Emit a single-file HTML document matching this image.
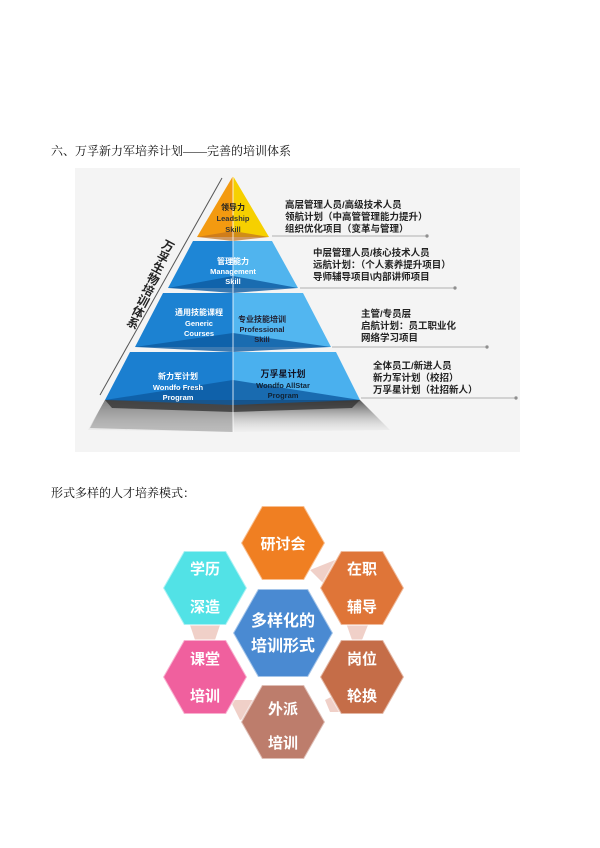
<!DOCTYPE html>
<html><head><meta charset="utf-8"><style>
body{margin:0;width:600px;height:848px;background:#fff;position:relative;overflow:hidden;font-family:"Liberation Sans","Noto Sans CJK SC",sans-serif}
.h{position:absolute;left:51px;font-size:12px;color:#111;font-family:"Liberation Serif","Noto Serif CJK SC",serif}
svg text{font-family:"Liberation Sans","Noto Sans CJK SC",sans-serif}
</style></head><body>
<div class="h" style="top:142px">六、万孚新力军培养计划——完善的培训体系</div>
<div class="h" style="top:484px">形式多样的人才培养模式：</div>
<svg width="600" height="848" style="position:absolute;left:0;top:0">
<defs>
<linearGradient id="sh" x1="0" y1="0" x2="0" y2="1"><stop offset="0" stop-color="#555"/><stop offset="1" stop-color="#ddd" stop-opacity="0.2"/></linearGradient>
</defs>
<rect x="75" y="168" width="445" height="284" fill="#f4f4f4"/>
<polygon points="105,400 360,400 390,430 233,432 88,430" fill="url(#sh)"/>
<polygon points="105,400 233,400 233,432 90,428" fill="#9a9a9a" opacity="0.6"/>
<polygon points="105,400 360,400 352,408 233,412 112,408" fill="#333" opacity="0.8"/>
<polygon points="130,352 233,352 233,400 105,400" fill="#1b7fd0"/>
<polygon points="233,352 336,352 360,400 233,400" fill="#4ab0ee"/>
<polygon points="105,400 233,380 360,400 233,405" fill="#0c5aa0" opacity="0.8"/>
<polygon points="163,293 233,293 233,347 135,347" fill="#1c82d2"/>
<polygon points="233,293 303,293 331,347 233,347" fill="#52b6f0"/>
<polygon points="135,347 233,333 331,347 233,352" fill="#0c5aa0" opacity="0.8"/>
<polygon points="193,241 233,241 233,288 168,288" fill="#1e86d6"/>
<polygon points="233,241 272,241 298,288 233,288" fill="#50b4ee"/>
<polygon points="168,288 233,276 298,288 233,293" fill="#0c5aa0" opacity="0.8"/>
<polygon points="233,176 233,237 197,237" fill="#f39a10"/>
<polygon points="233,176 269,237 233,237" fill="#f6d000"/>
<polygon points="197,237 233,231 269,237 233,241" fill="#c07020" opacity="0.7"/>
<line x1="233" y1="176" x2="233" y2="432" stroke="#fff" stroke-width="0.8"/>
<line x1="100" y1="395" x2="222" y2="178" stroke="#555" stroke-width="1"/>
<g font-size="12" font-weight="bold" fill="#222" text-anchor="middle">
<text transform="translate(166,250) rotate(28)">万</text>
<text transform="translate(161,261) rotate(28)">孚</text>
<text transform="translate(156,272) rotate(28)">生</text>
<text transform="translate(151,283) rotate(28)">物</text>
<text transform="translate(146,294) rotate(28)">培</text>
<text transform="translate(141,305) rotate(28)">训</text>
<text transform="translate(136,316) rotate(28)">体</text>
<text transform="translate(131,327) rotate(28)">系</text>
</g>
<g font-weight="bold" text-anchor="middle" font-size="7.5">
<text x="233" y="210" fill="#222" font-size="8">领导力</text>
<text x="233" y="221" fill="#333">Leadship</text>
<text x="233" y="232" fill="#333">Skill</text>
<text x="233" y="264" fill="#fff" font-size="8">管理能力</text>
<text x="233" y="274" fill="#fff">Management</text>
<text x="233" y="284" fill="#fff">Skill</text>
<text x="199" y="315" fill="#fff" font-size="8">通用技能课程</text>
<text x="199" y="326" fill="#fff">Generic</text>
<text x="199" y="336" fill="#fff">Courses</text>
<text x="262" y="322" fill="#223" font-size="8">专业技能培训</text>
<text x="262" y="332" fill="#223">Professional</text>
<text x="262" y="342" fill="#223">Skill</text>
<text x="178" y="379" fill="#fff" font-size="8">新力军计划</text>
<text x="178" y="390" fill="#fff">Wondfo Fresh</text>
<text x="178" y="400" fill="#fff">Program</text>
<text x="283" y="377" fill="#112" font-size="9">万孚星计划</text>
<text x="283" y="388" fill="#123">Wondfo AllStar</text>
<text x="283" y="398" fill="#123">Program</text>
</g>
<g stroke="#999" stroke-width="0.8" fill="#888">
<line x1="272" y1="236" x2="427" y2="236"/><circle cx="427" cy="236" r="1.3"/>
<line x1="300" y1="288" x2="455" y2="288"/><circle cx="455" cy="288" r="1.3"/>
<line x1="332" y1="347" x2="487" y2="347"/><circle cx="487" cy="347" r="1.3"/>
<line x1="361" y1="398" x2="516" y2="398"/><circle cx="516" cy="398" r="1.3"/>
</g>
<g font-size="9.5" font-weight="bold" fill="#222">
<text x="285" y="208">高层管理人员/高级技术人员</text>
<text x="285" y="220">领航计划（中高管管理能力提升）</text>
<text x="285" y="232">组织优化项目（变革与管理）</text>
<text x="313" y="256">中层管理人员/核心技术人员</text>
<text x="313" y="268">远航计划：（个人素养提升项目）</text>
<text x="313" y="280">导师辅导项目\内部讲师项目</text>
<text x="361" y="317">主管/专员层</text>
<text x="361" y="329">启航计划：员工职业化</text>
<text x="361" y="341">网络学习项目</text>
<text x="373" y="369">全体员工/新进人员</text>
<text x="373" y="381">新力军计划（校招）</text>
<text x="373" y="393">万孚星计划（社招新人）</text>
</g>
<g fill="#f0d0c8">
<polygon points="310,570 335,560 345,578 325,585"/>
<polygon points="345,620 370,620 362,640 352,640"/>
<polygon points="325,700 345,690 350,712 330,712"/>
<polygon points="230,700 255,700 260,715 240,720"/>
<polygon points="190,625 220,625 215,640 195,640"/>
</g>
<g stroke="#fff" stroke-opacity="0.5" stroke-width="2">
<polygon points="241,543 262,506 304,506 325,543 304,580 262,580" fill="#f07f22"/>
<polygon points="320,588 341,551 383,551 404,588 383,625 341,625" fill="#df7538"/>
<polygon points="320,677 341,640 383,640 404,677 383,714 341,714" fill="#c56d48"/>
<polygon points="241,722 262,685 304,685 325,722 304,759 262,759" fill="#bd7d6c"/>
<polygon points="163,677 184,640 226,640 247,677 226,714 184,714" fill="#f0609e"/>
<polygon points="163,588 184,551 226,551 247,588 226,625 184,625" fill="#52e2e6"/>
<polygon points="233,633 258,589 308,589 333,633 308,677 258,677" fill="#4a8ad2"/>
</g>
<g font-size="15" font-weight="bold" fill="#fff" text-anchor="middle">
<text x="283" y="549">研讨会</text>
<text x="362" y="574">在职</text><text x="362" y="612">辅导</text>
<text x="362" y="664">岗位</text><text x="362" y="701">轮换</text>
<text x="283" y="714">外派</text><text x="283" y="748">培训</text>
<text x="205" y="664">课堂</text><text x="205" y="701">培训</text>
<text x="205" y="574">学历</text><text x="205" y="612">深造</text>
<text x="283" y="626" font-size="16">多样化的</text><text x="283" y="651" font-size="16">培训形式</text>
</g>
</svg>
</body></html>
